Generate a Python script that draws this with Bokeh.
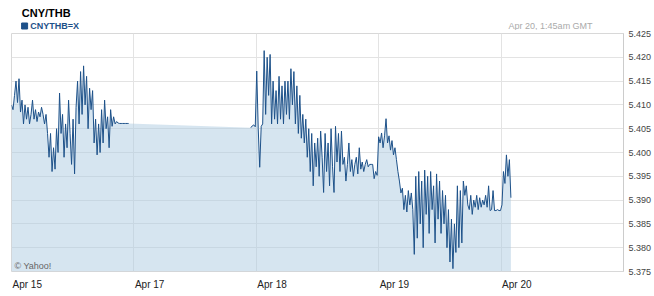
import numpy as np
from bokeh.plotting import figure
from bokeh.layouts import column
from bokeh.models import Range1d, FixedTicker, NumeralTickFormatter, Label
from bokeh.core.properties import value
from bokeh.embed import file_html
from bokeh.resources import INLINE

# ---------------- data ----------------
title = "CNY/THB"
series_name = "CNYTHB=X"
timestamp = "Apr 20, 1:45am GMT"
credit = "\u00a9 Yahoo!"

x_tick_pos = [0, 1, 2, 3, 4]
x_tick_labels = ["Apr 15", "Apr 17", "Apr 18", "Apr 19", "Apr 20"]
y_ticks = [5.375, 5.380, 5.385, 5.390, 5.395, 5.400, 5.405, 5.410, 5.415, 5.420, 5.425]

# trading-day index of first / last quote of each session block
seg_a_start, seg_a_end = 0.0, 0.957
seg_b_start, seg_b_end = 1.955, 4.08

seg_a = [5.4100, 5.4090, 5.4120, 5.4150, 5.4105, 5.4155, 5.4085, 5.4110, 5.4060, 5.4100,
         5.4070, 5.4095, 5.4060, 5.4080, 5.4110, 5.4070, 5.4090, 5.4065, 5.4085, 5.4075,
         5.4095, 5.4080, 5.4060, 5.4080, 5.4040, 5.3990, 5.4040, 5.3960, 5.4010, 5.3965,
         5.4050, 5.4000, 5.4125, 5.4040, 5.4080, 5.3990, 5.4060, 5.4010, 5.4110, 5.4040,
         5.3975, 5.4070, 5.3955, 5.4095, 5.4150, 5.4060, 5.4170, 5.4080, 5.4182, 5.4100,
         5.4160, 5.4050, 5.4135, 5.4090, 5.4130, 5.4020, 5.4070, 5.3995, 5.4060, 5.4000,
         5.4090, 5.4020, 5.4110, 5.4050, 5.4075, 5.4010, 5.4090, 5.4055, 5.4075, 5.4060,
         5.4065, 5.4062, 5.4061, 5.4061, 5.4061, 5.4061, 5.4061, 5.4061, 5.4061]

seg_b = [5.4052, 5.4056, 5.4058, 5.4054, 5.4171, 5.4050, 5.3969, 5.4055,
         5.4060, 5.4214, 5.4080, 5.4200, 5.4120, 5.4206, 5.4060, 5.4150, 5.4070, 5.4130,
         5.4060, 5.4160, 5.4070, 5.4140, 5.4060, 5.4150, 5.4080, 5.4150,
         5.4070, 5.4176, 5.4100, 5.4170, 5.4060, 5.4140, 5.4040, 5.4120, 5.4030, 5.4080,
         5.4020, 5.4070, 5.3990, 5.4050, 5.3960, 5.4040, 5.3930, 5.4020, 5.3970, 5.4030,
         5.3950, 5.4045, 5.3990, 5.3916, 5.4040, 5.3960, 5.4020, 5.3930, 5.4050, 5.3970,
         5.3916, 5.4055, 5.3980, 5.4040, 5.3960, 5.4045, 5.3975,
         5.3990, 5.3940, 5.3975, 5.4020, 5.3960, 5.3985, 5.3950, 5.3975, 5.3990, 5.3955,
         5.4010, 5.3965, 5.3980, 5.3960, 5.3975, 5.3985, 5.3970, 5.3975, 5.3975, 5.3975,
         5.3945, 5.3960, 5.3952,
         5.4033, 5.4020, 5.4041, 5.4010, 5.4035, 5.4071, 5.4020, 5.4035, 5.4005, 5.4025,
         5.3995, 5.4010, 5.3985, 5.3960, 5.3940,
         5.3915, 5.3925, 5.3880, 5.3910, 5.3875, 5.3920, 5.3890, 5.3915, 5.3880,
         5.3786, 5.3950, 5.3820, 5.3960, 5.3850, 5.3940, 5.3800, 5.3963, 5.3870, 5.3950,
         5.3830, 5.3960, 5.3880, 5.3930, 5.3810, 5.3955, 5.3860, 5.3940, 5.3830, 5.3920,
         5.3850, 5.3910, 5.3800, 5.3880, 5.3770, 5.3860, 5.3756, 5.3850, 5.3790, 5.3930,
         5.3800, 5.3920,
         5.3810, 5.3940, 5.3910, 5.3930, 5.3890, 5.3880, 5.3910, 5.3870, 5.3900, 5.3885,
         5.3910, 5.3880, 5.3905, 5.3885, 5.3900, 5.3890, 5.3910, 5.3885, 5.3930,
         5.3878, 5.3880, 5.3920, 5.3878, 5.3878, 5.3880, 5.3878, 5.3878,
         5.3890, 5.3960, 5.3935, 5.3995, 5.3950, 5.3985, 5.3905]

# ---------------- build ----------------
xa = np.linspace(seg_a_start, seg_a_end, len(seg_a))
xb = np.linspace(seg_b_start, seg_b_end, len(seg_b))
x_all = np.concatenate([xa, xb])
y_all = np.concatenate([seg_a, seg_b])

FONT = "Liberation Sans"
LINE = "#1d5189"
W = 654
BL, BR = 11, 31

xr = Range1d(0, 5.0)

# header strip
head = figure(width=W, height=30, output_backend="svg", toolbar_location=None,
              x_range=Range1d(0, W), y_range=Range1d(30, 0),
              min_border_left=0, min_border_right=0, min_border_top=0, min_border_bottom=0)
head.axis.visible = False
head.grid.visible = False
head.outline_line_color = None
head.text(x=[11], y=[12], text=[title], text_font=value(FONT), text_font_size="11px",
          text_font_style="bold", text_color="#000000", text_baseline="middle")
head.scatter(x=[14], y=[25.5], marker="square", size=6, fill_color=LINE, line_color=LINE)
head.text(x=[20], y=[25.5], text=[series_name], text_font=value(FONT), text_font_size="9px",
          text_font_style="bold", text_color=LINE, text_baseline="middle")
head.text(x=[621], y=[25], text=[timestamp], text_font=value(FONT), text_font_size="9px",
          text_color="#aaaaaa", text_align="right", text_baseline="middle")

# main chart
p = figure(width=W, height=246, output_backend="svg", toolbar_location=None,
           x_range=xr, y_range=Range1d(y_ticks[0], y_ticks[-1]),
           y_axis_location="right", x_axis_location=None,
           min_border_left=BL, min_border_right=BR, min_border_top=3, min_border_bottom=5)
p.background_fill_color = "white"
p.border_fill_color = "white"
p.outline_line_color = "#d8d8d8"

p.varea(x=x_all, y1=y_ticks[0], y2=y_all, fill_color="#adcbe1", fill_alpha=0.5)
p.line(xa, seg_a, line_color=LINE, line_width=1)
p.line(xb, seg_b, line_color=LINE, line_width=1)

p.xgrid.ticker = FixedTicker(ticks=x_tick_pos)
p.ygrid.ticker = FixedTicker(ticks=y_ticks)
for g in (p.xgrid[0], p.ygrid[0]):
    g.grid_line_color = "#e3e3e3"
    g.grid_line_width = 1

ya_ax = p.yaxis[0]
ya_ax.ticker = FixedTicker(ticks=y_ticks)
ya_ax.formatter = NumeralTickFormatter(format="0.000")
ya_ax.major_label_text_font = FONT
ya_ax.major_label_text_font_size = "9px"
ya_ax.major_label_text_color = "#444444"
ya_ax.major_label_standoff = 5
ya_ax.axis_line_color = "#cccccc"
ya_ax.major_tick_out = 0
ya_ax.major_tick_in = 0
ya_ax.minor_tick_out = 0
ya_ax.minor_tick_in = 0

p.add_layout(Label(x=3, y=6, x_units="screen", y_units="screen", text=credit,
                   text_font=FONT, text_font_size="9px",
                   text_color="#666666", text_baseline="middle"))

# footer strip with left-aligned date labels, sharing the x scale
foot = figure(width=W, height=20, output_backend="svg", toolbar_location=None,
              x_range=xr, y_range=Range1d(20, 0),
              min_border_left=BL, min_border_right=BR, min_border_top=0, min_border_bottom=0)
foot.axis.visible = False
foot.grid.visible = False
foot.outline_line_color = None
foot.text(x=x_tick_pos, y=[8] * len(x_tick_pos), text=x_tick_labels, text_font=value(FONT),
          text_font_size="10px", text_color="#222222", text_baseline="middle", x_offset=1)

layout = column(head, p, foot, spacing=0)
open("out.html", "w").write(file_html(layout, INLINE))
